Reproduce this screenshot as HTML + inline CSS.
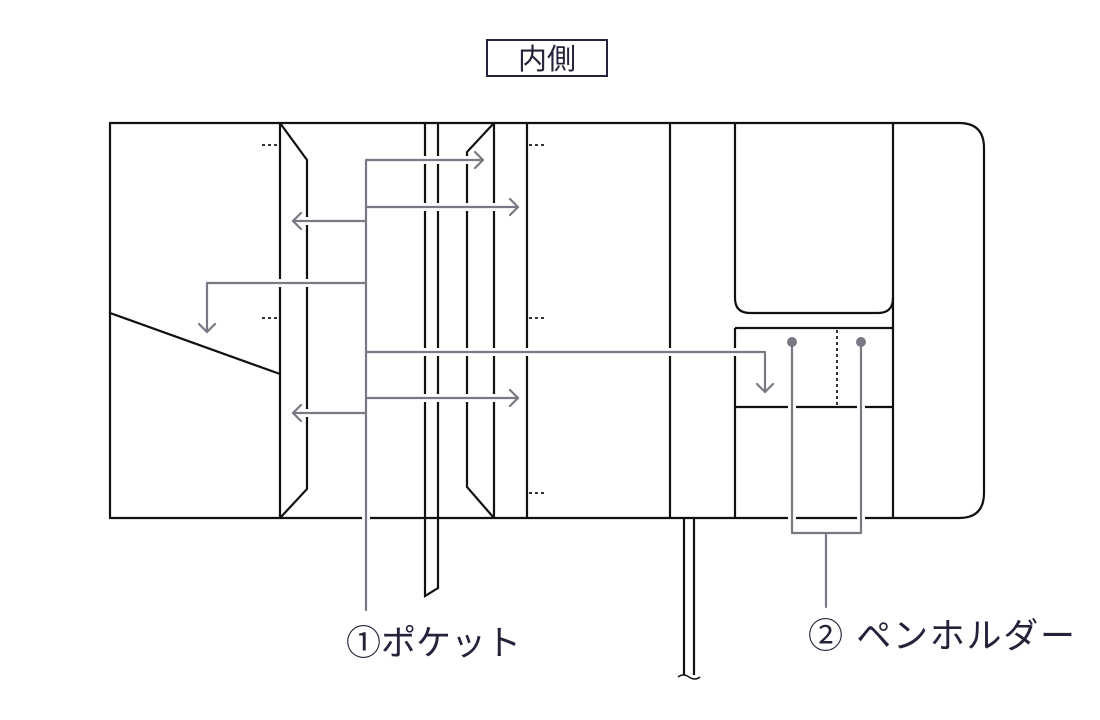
<!DOCTYPE html>
<html><head><meta charset="utf-8"><style>
html,body{margin:0;padding:0;background:#fff;}
svg{display:block;}
text{font-family:"Liberation Sans","Noto Sans CJK JP",sans-serif;fill:#24233a;}
</style></head><body>
<svg width="1100" height="720" viewBox="0 0 1100 720" xmlns="http://www.w3.org/2000/svg">
<rect x="487" y="40" width="120" height="36" fill="none" stroke="#24233a" stroke-width="2"/>
<text x="547" y="69" font-size="29" text-anchor="middle">内側</text>
<g fill="none" stroke="#111" stroke-width="2.2">
<path d="M110 123 H959 Q984 123 984 148 V493 Q984 518 959 518 H110 Z"/>
<path d="M110 313 L280 374"/>
<path d="M280 123 V518"/>
<path d="M280 123 L307 160 V489 L280 518"/>
<path d="M425 123 V596 L438 588 V123"/>
<path d="M494 123 V518"/>
<path d="M494 123 L467 152 V487 L494 518"/>
<path d="M527 123 V518"/>
<path d="M670 123 V518"/>
<path d="M684 518 V675 M694 518 V675"/>
<path d="M678 677 Q683 673 689 677 Q695 681 700 677" stroke-width="1.5"/>
<path d="M735 123 V298 Q735 313 750 313 H878 Q893 313 893 298"/>
<path d="M893 123 V518"/>
<path d="M735 328 H893 M735 328 V518 M735 407 H893"/>
</g>
<g stroke="#333" stroke-width="2" stroke-dasharray="3,3" fill="none">
<path d="M262 145 H278 M529 145 H547 M262 318 H278 M529 318 H547 M529 493 H547"/>
<path d="M837 330 V406"/>
</g>
<g fill="none" stroke-linecap="round" stroke-linejoin="round">
<g stroke="#fff" stroke-width="8">
<path d="M366 160 V610 M366 160 H483 M366 207 H518 M366 221 H293 M366 283 H207 V332 M366 352 H765 V392 M366 398 H518 M366 413 H293"/>
<path d="M792 342 V533 H861 V342 M826 533 V607"/>
</g>
<g stroke="#7a7885" stroke-width="2.2">
<path d="M366 160 V610 M366 160 H483 M366 207 H518 M366 221 H293 M366 283 H207 V332 M366 352 H765 V392 M366 398 H518 M366 413 H293"/>
<path d="M475 152 L483 160 L475 168 M510 199 L518 207 L510 215 M301 213 L293 221 L301 229 M199 324 L207 332 L215 324 M757 384 L765 392 L773 384 M510 390 L518 398 L510 406 M301 405 L293 413 L301 421"/>
<path d="M792 342 V533 H861 V342 M826 533 V607"/>
</g>
</g>
<circle cx="792" cy="342" r="5" fill="#7a7885"/>
<circle cx="861" cy="342" r="5" fill="#7a7885"/>
<text x="346" y="655" font-size="35">①ポケット</text>
<text x="808" y="648" font-size="35" textLength="267" lengthAdjust="spacing">② ペンホルダー</text>
</svg>
</body></html>
